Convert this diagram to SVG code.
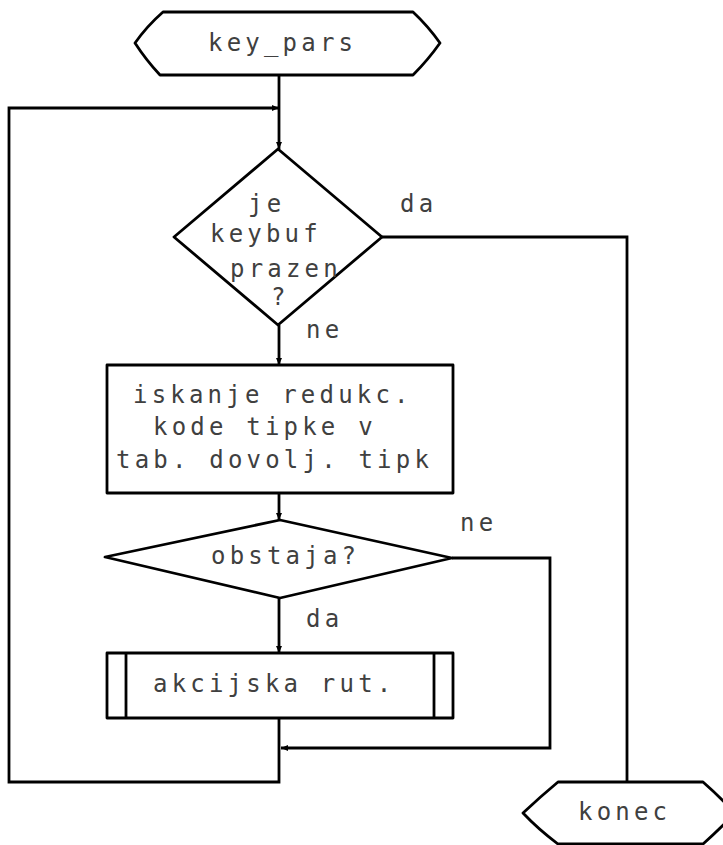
<svg xmlns="http://www.w3.org/2000/svg" width="723" height="845" viewBox="0 0 723 845">
<defs>
<style>
.shape{fill:#fff;stroke:#000;stroke-width:2.8;stroke-linejoin:round}
.line{fill:none;stroke:#000;stroke-width:2.8}
.t{font-family:"DejaVu Sans Mono","Liberation Mono",monospace;font-size:24px;letter-spacing:4.2px;fill:#404040}
</style>
<marker id="arr" markerWidth="8" markerHeight="8" refX="7" refY="4" orient="auto" markerUnits="userSpaceOnUse">
<path d="M0,1 L7,4 L0,7 Z" fill="#000"/>
</marker>
</defs>
<rect width="723" height="845" fill="#fff"/>
<g id="connectors">
<path class="line" d="M279,75 V149" marker-end="url(#arr)"/>
<path class="line" d="M279,718 V782 H9 V108 H279" marker-end="url(#arr)"/>
<path class="line" d="M382,237 H627 V782"/>
<path class="line" d="M279,325 V365" marker-end="url(#arr)"/>
<path class="line" d="M279,493 V520" marker-end="url(#arr)"/>
<path class="line" d="M279,598 V653" marker-end="url(#arr)"/>
<path class="line" d="M452,558 H550 V748 H281" marker-end="url(#arr)"/>
<text class="t" x="400" y="212">da</text>
<text class="t" x="306" y="338">ne</text>
<text class="t" x="460" y="531">ne</text>
<text class="t" x="306" y="627">da</text>
</g>
<g id="start">
<path class="shape" d="M163,12 H413 Q428,26 440,43 Q428,60 413,75 H160 Q146,60 135,43 Q147,26 163,12 Z"/>
<text class="t" x="208" y="51">key_pars</text>
</g>
<g id="check_empty">
<path class="shape" d="M278,149 L382,237 L278,325 L174,237 Z"/>
<text class="t" x="248" y="212">je</text>
<text class="t" x="210" y="242">keybuf</text>
<text class="t" x="230" y="277">prazen</text>
<text class="t" x="271" y="305">?</text>
</g>
<g id="search">
<rect class="shape" x="107" y="365" width="346" height="128"/>
<text class="t" x="133" y="403">iskanje redukc.</text>
<text class="t" x="153" y="435">kode tipke v</text>
<text class="t" x="116" y="468">tab. dovolj. tipk</text>
</g>
<g id="exists">
<path class="shape" d="M280,520 L452,558 L280,598 L105,557 Z"/>
<text class="t" x="211" y="564">obstaja?</text>
</g>
<g id="action">
<rect class="shape" x="107" y="653" width="346" height="65"/>
<line class="line" x1="126" y1="653" x2="126" y2="718"/>
<line class="line" x1="434" y1="653" x2="434" y2="718"/>
<text class="t" x="153" y="692">akcijska rut.</text>
</g>
<g id="end">
<path class="shape" d="M558,782 H703 Q720,797 735,813 Q720,829 703,844 H558 Q538,829 523,813 Q540,797 558,782 Z"/>
<text class="t" x="578" y="820">konec</text>
</g>
</svg>
